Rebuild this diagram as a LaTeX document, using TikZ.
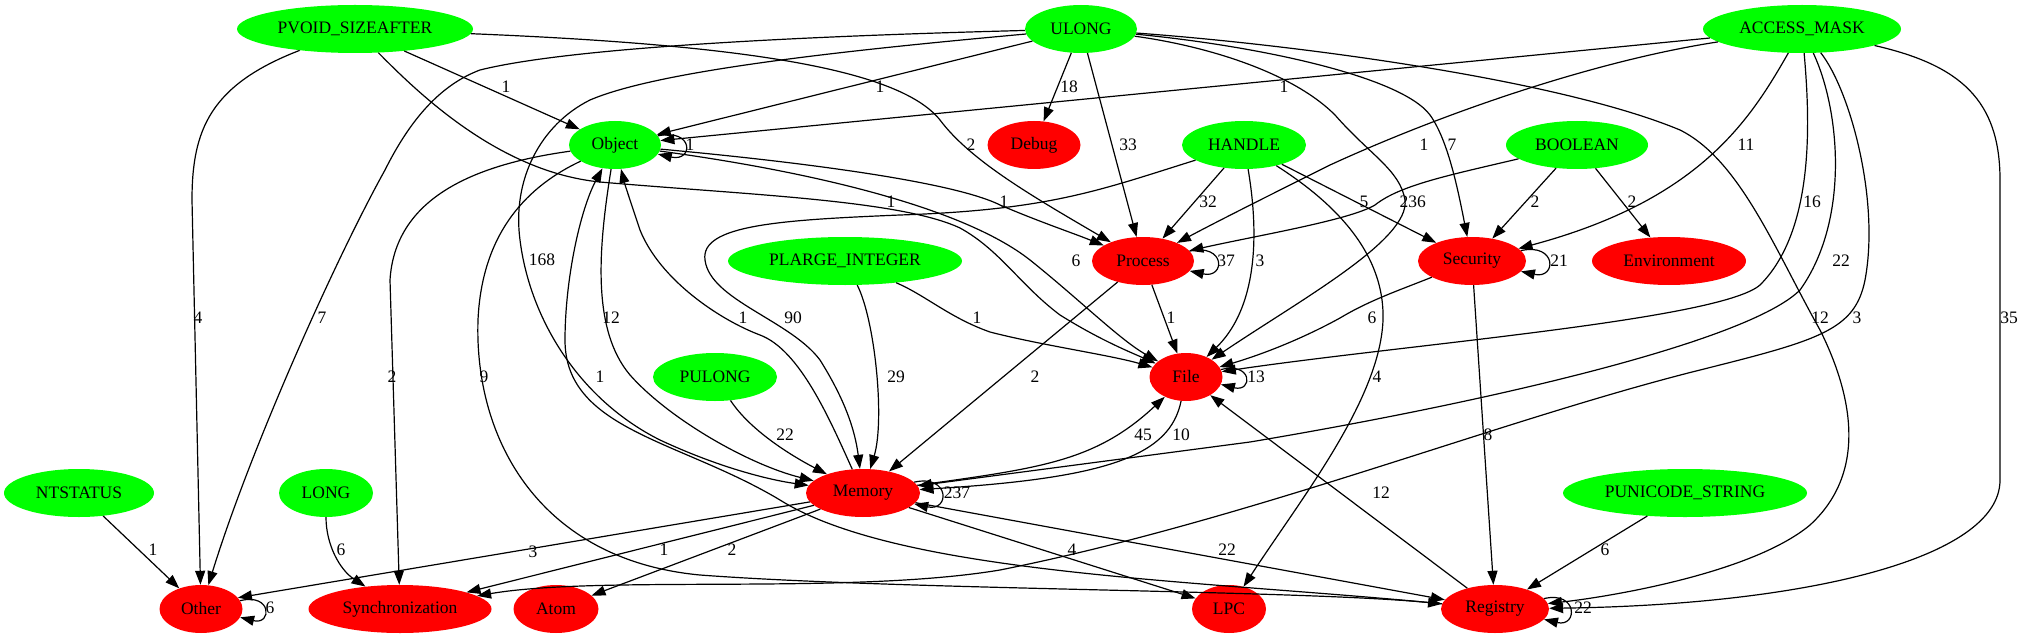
\documentclass[tikz,border=0pt]{standalone}
\usepackage{fontspec}
\setmainfont{Liberation Serif}
\usetikzlibrary{shapes.geometric,arrows.meta}
\definecolor{gfill}{RGB}{0,255,0}
\definecolor{rfill}{RGB}{255,0,0}
\begin{document}
\begin{tikzpicture}[x=1pt,y=-1pt,
 nd/.style={ellipse, inner sep=0pt, minimum height=48pt, font=\fontsize{17.5}{20}\selectfont},
 gn/.style={nd, fill=gfill},
 rn/.style={nd, fill=rfill},
 conn/.style={draw=black, line width=1.2pt, -{Triangle[length=14pt,width=10pt]}},
 lbl/.style={inner sep=0pt, font=\fontsize{17.5}{20}\selectfont}]
\useasboundingbox (0,0) rectangle (2025,639);
\fill[white] (0,0) rectangle (2025,639);
% nodes
\node[gn, minimum width=236pt] (pvoid) at (355,29) {PVOID\_SIZEAFTER};
\node[gn, minimum width=112pt] (ulong) at (1081,29) {ULONG};
\node[gn, minimum width=198pt] (access) at (1802,29) {ACCESS\_MASK};
\node[gn, minimum width=92pt] (object) at (615,145) {Object};
\node[rn, minimum width=93pt] (debug) at (1034,145) {Debug};
\node[gn, minimum width=124pt] (handle) at (1244,145) {HANDLE};
\node[gn, minimum width=142pt] (boolean) at (1577,145) {BOOLEAN};
\node[gn, minimum width=234pt] (plarge) at (845,261) {PLARGE\_INTEGER};
\node[rn, minimum width=102pt] (process) at (1143,261) {Process};
\node[rn, minimum width=108pt] (security) at (1472,261) {Security};
\node[rn, minimum width=154pt] (environment) at (1669,261) {Environment};
\node[gn, minimum width=124pt] (pulong) at (715,377) {PULONG};
\node[rn, minimum width=73pt] (file) at (1186,377) {File};
\node[gn, minimum width=150pt] (ntstatus) at (79,493) {NTSTATUS};
\node[gn, minimum width=94pt] (longn) at (326,493) {LONG};
\node[rn, minimum width=114pt] (memory) at (863,493) {Memory};
\node[gn, minimum width=244pt] (punicode) at (1685,493) {PUNICODE\_STRING};
\node[rn, minimum width=83pt] (other) at (201,609) {Other};
\node[rn, minimum width=183pt] (sync) at (400,609) {Synchronization};
\node[rn, minimum width=85pt] (atom) at (556,609) {Atom};
\node[rn, minimum width=74pt] (lpc) at (1229,609) {LPC};
\node[rn, minimum width=108pt] (registry) at (1495,609) {Registry};
% PVOID_SIZEAFTER
\draw[conn] (pvoid) -- (object);
\draw[conn] (pvoid) .. controls (210,85) and (192,130) .. (192,200) -- (other);
\draw[conn] (pvoid) .. controls (750,45) and (900,70) .. (940,120) .. controls (970,160) and (1030,195) .. (process);
\draw[conn] (pvoid) .. controls (420,95) and (500,172) .. (600,182) .. controls (750,195) and (900,200) .. (960,228) .. controls (1000,250) and (1020,285) .. (1060,315) .. controls (1100,340) and (1130,352) .. (file);
% ULONG
\draw[conn] (ulong) -- (object);
\draw[conn] (ulong) .. controls (850,35) and (580,45) .. (480,70) .. controls (440,85) and (410,120) .. (385,170) .. controls (335,260) and (250,450) .. (other);
\draw[conn] (ulong) .. controls (850,50) and (660,70) .. (590,100) .. controls (540,125) and (512,180) .. (520,240) .. controls (530,320) and (580,400) .. (660,440) .. controls (720,468) and (770,480) .. (memory);
\draw[conn] (ulong) -- (debug);
\draw[conn] (ulong) -- (process);
\draw[conn] (ulong) .. controls (1250,45) and (1400,75) .. (1430,115) .. controls (1448,140) and (1458,190) .. (security);
\draw[conn] (ulong) .. controls (1200,45) and (1290,70) .. (1335,115) .. controls (1370,155) and (1400,170) .. (1405,200) .. controls (1410,240) and (1300,300) .. (file);
\draw[conn] (ulong) .. controls (1300,45) and (1560,80) .. (1680,130) .. controls (1740,160) and (1775,250) .. (1820,330) .. controls (1850,390) and (1870,470) .. (1810,525) .. controls (1750,575) and (1600,598) .. (registry);
% ACCESS_MASK
\draw[conn] (access) -- (object);
\draw[conn] (access) .. controls (1600,60) and (1450,110) .. (1330,165) .. controls (1270,195) and (1220,220) .. (process);
\draw[conn] (access) .. controls (1750,120) and (1700,200) .. (security);
\draw[conn] (access) .. controls (1810,120) and (1815,230) .. (1760,285) .. controls (1720,320) and (1400,345) .. (file);
\draw[conn] (access) .. controls (1840,110) and (1850,220) .. (1800,290) .. controls (1750,340) and (1500,400) .. (1250,442) -- (memory);
\draw[conn] (access) .. controls (1850,90) and (1880,200) .. (1865,280) .. controls (1855,330) and (1820,340) .. (1700,370) .. controls (1500,420) and (1250,520) .. (1000,570) .. controls (850,595) and (600,575) .. (sync);
\draw[conn] (access) .. controls (1960,65) and (2000,100) .. (2000,180) -- (2000,480) .. controls (2000,560) and (1800,605) .. (registry);
% HANDLE
\draw[conn] (handle) .. controls (1100,190) and (1050,210) .. (900,215) .. controls (780,220) and (700,225) .. (705,260) .. controls (710,300) and (790,320) .. (820,360) .. controls (845,400) and (855,430) .. (memory);
\draw[conn] (handle) -- (process);
\draw[conn] (handle) .. controls (1255,210) and (1265,300) .. (file);
\draw[conn] (handle) -- (security);
\draw[conn] (handle) .. controls (1330,200) and (1385,250) .. (1383,320) .. controls (1380,400) and (1300,500) .. (lpc);
% BOOLEAN
\draw[conn] (boolean) .. controls (1450,175) and (1400,185) .. (1375,205) .. controls (1350,220) and (1260,235) .. (process);
\draw[conn] (boolean) -- (security);
\draw[conn] (boolean) -- (environment);
% Object
\draw[conn] (object.12) .. controls +(36,-8) and +(36,8) .. (object.-12);
\draw[conn] (object) .. controls (780,160) and (950,180) .. (1000,205) .. controls (1040,222) and (1070,232) .. (process);
\draw[conn] (object) .. controls (800,170) and (960,205) .. (1030,260) .. controls (1080,300) and (1120,340) .. (file);
\draw[conn] (object) .. controls (470,165) and (395,200) .. (390,280) -- (sync);
\draw[conn] (object) .. controls (598,250) and (592,330) .. (630,375) .. controls (670,420) and (750,465) .. (memory);
\draw[conn] (object) .. controls (530,185) and (482,230) .. (478,320) .. controls (474,440) and (540,560) .. (700,575) .. controls (900,590) and (1300,590) .. (registry);
% Memory
\draw[conn] (memory) .. controls (830,420) and (800,350) .. (760,335) .. controls (720,320) and (660,280) .. (640,230) .. controls (630,200) and (625,185) .. (object);
\draw[conn] (memory) .. controls (1040,468) and (1095,462) .. (file);
\draw[conn] (memory.12) .. controls +(36,-8) and +(36,8) .. (memory.-12);
\draw[conn] (memory) -- (other.17);
\draw[conn] (memory) -- (sync);
\draw[conn] (memory) -- (atom);
\draw[conn] (memory) -- (lpc);
\draw[conn] (memory) -- (registry);
% File
\draw[conn] (file) .. controls (1170,455) and (1110,478) .. (memory);
\draw[conn] (file.12) .. controls +(32,-8) and +(32,8) .. (file.-12);
% Process
\draw[conn] (process.12) .. controls +(36,-8) and +(36,8) .. (process.-12);
\draw[conn] (process) -- (file);
\draw[conn] (process) -- (memory);
% PLARGE_INTEGER
\draw[conn] (plarge) .. controls (875,320) and (885,420) .. (memory);
\draw[conn] (plarge) .. controls (925,295) and (950,318) .. (990,332) .. controls (1040,345) and (1110,355) .. (file);
% PULONG
\draw[conn] (pulong) .. controls (750,430) and (790,455) .. (memory);
% Security
\draw[conn] (security.12) .. controls +(36,-8) and +(36,8) .. (security.-12);
\draw[conn] (security) .. controls (1400,290) and (1370,300) .. (1340,318) .. controls (1300,340) and (1260,355) .. (file);
\draw[conn] (security) -- (registry);
% Registry
\draw[conn] (registry.12) .. controls +(34,-8) and +(34,8) .. (registry.-12);
\draw[conn] (registry) -- (file);
\draw[conn] (registry) .. controls (1200,580) and (900,575) .. (780,500) .. controls (680,440) and (565,430) .. (565,340) .. controls (565,280) and (580,210) .. (object);
% others
\draw[conn] (punicode) -- (registry);
\draw[conn] (ntstatus) -- (other);
\draw[conn] (longn) .. controls (326,545) and (340,570) .. (sync);
\draw[conn] (other.12) .. controls +(32,-8) and +(32,8) .. (other.-12);
% labels
\node[lbl] (t1) at (506,87) {1};
\node[lbl] (t2) at (198,318) {4};
\node[lbl] (t3) at (971,145) {2};
\node[lbl] (t4) at (891,202) {1};
\node[lbl] (t5) at (880,87) {1};
\node[lbl] (t6) at (322,318) {7};
\node[lbl] (t7) at (542,260) {168};
\node[lbl] (t8) at (1069,87) {18};
\node[lbl] (t9) at (1128,145) {33};
\node[lbl] (t10) at (1452,145) {7};
\node[lbl] (t11) at (1417,202) {36};
\node[lbl] (t12) at (1820,318) {12};
\node[lbl] (t13) at (1284,87) {1};
\node[lbl] (t14) at (1424,145) {1};
\node[lbl] (t15) at (1746,145) {11};
\node[lbl] (t16) at (1812,202) {16};
\node[lbl] (t17) at (1841,261) {22};
\node[lbl] (t18) at (1857,318) {3};
\node[lbl] (t19) at (2009,318) {35};
\node[lbl] (t20) at (793,318) {90};
\node[lbl] (t21) at (1208,202) {32};
\node[lbl] (t22) at (1260,261) {3};
\node[lbl] (t23) at (1364,202) {5};
\node[lbl] (t24) at (1377,377) {4};
\node[lbl] (t25) at (1404,202) {2};
\node[lbl] (t26) at (1535,202) {2};
\node[lbl] (t27) at (1632,202) {2};
\node[lbl] (t28) at (690,145) {1};
\node[lbl] (t29) at (1004,202) {1};
\node[lbl] (t30) at (1076,261) {6};
\node[lbl] (t31) at (392,377) {2};
\node[lbl] (t32) at (611,318) {12};
\node[lbl] (t33) at (484,377) {9};
\node[lbl] (t34) at (743,318) {1};
\node[lbl] (t35) at (1143,435) {45};
\node[lbl] (t36) at (957,493) {237};
\node[lbl] (t37) at (533,552) {3};
\node[lbl] (t38) at (664,550) {1};
\node[lbl] (t39) at (732,550) {2};
\node[lbl] (t40) at (1072,550) {4};
\node[lbl] (t41) at (1227,550) {22};
\node[lbl] (t42) at (1181,435) {10};
\node[lbl] (t43) at (1256,377) {13};
\node[lbl] (t44) at (1226,261) {37};
\node[lbl] (t45) at (1171,318) {1};
\node[lbl] (t46) at (1035,377) {2};
\node[lbl] (t47) at (896,377) {29};
\node[lbl] (t48) at (977,318) {1};
\node[lbl] (t49) at (785,435) {22};
\node[lbl] (t50) at (1559,261) {21};
\node[lbl] (t51) at (1372,318) {6};
\node[lbl] (t52) at (1488,435) {8};
\node[lbl] (t53) at (1583,608) {22};
\node[lbl] (t54) at (1381,493) {12};
\node[lbl] (t55) at (600,377) {1};
\node[lbl] (t56) at (1605,550) {6};
\node[lbl] (t57) at (153,550) {1};
\node[lbl] (t58) at (341,550) {6};
\node[lbl] (t59) at (270,608) {6};
\end{tikzpicture}
\end{document}
